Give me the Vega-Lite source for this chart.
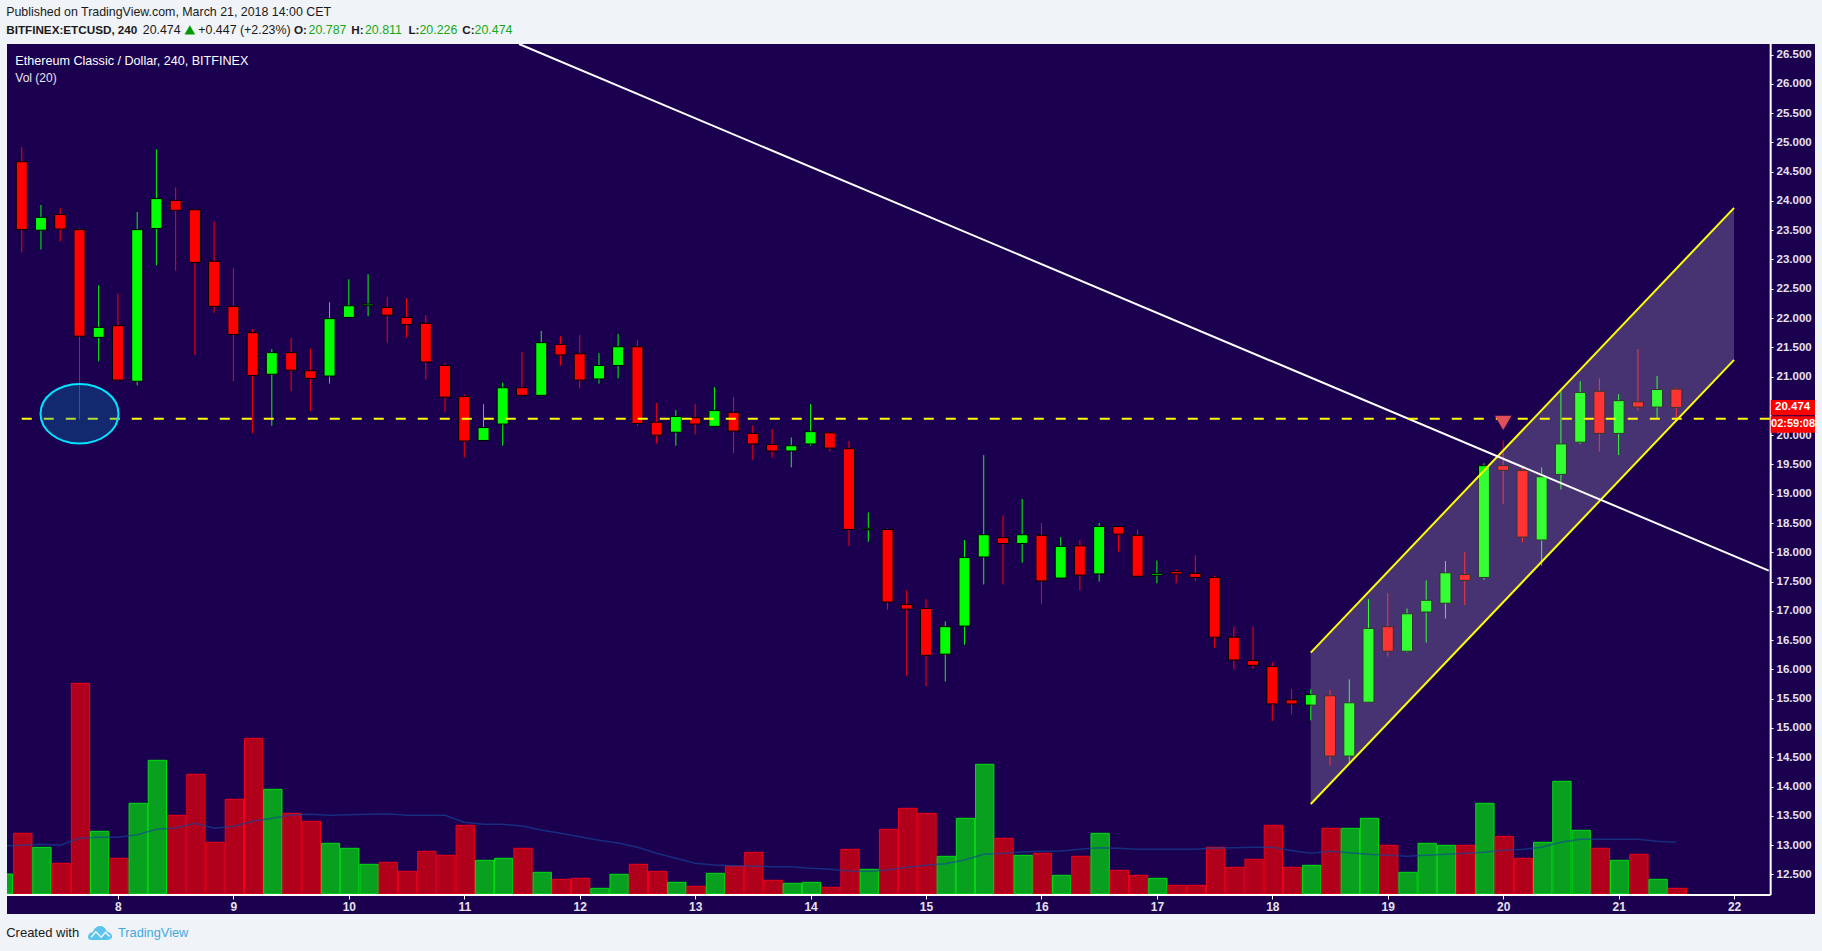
{
"$schema":"https://vega.github.io/schema/vega-lite/v6.json",
"width":1808,"height":870,"autosize":{"type":"none"},
"padding":{"left":7,"top":44,"right":7,"bottom":37},
"background":"#f0f3f7",
"config":{"view":{"fill":"#1a004f","stroke":null}},
"datasets":{
"candles":[
{"day":7.167,"open":24.67,"high":24.92,"low":23.12,"close":23.51,"dir":"down"},
{"day":7.333,"open":23.5,"high":23.93,"low":23.17,"close":23.72,"dir":"up"},
{"day":7.5,"open":23.77,"high":23.88,"low":23.31,"close":23.52,"dir":"down"},
{"day":7.667,"open":23.51,"high":23.53,"low":20.27,"close":21.69,"dir":"down"},
{"day":7.833,"open":21.67,"high":22.56,"low":21.26,"close":21.84,"dir":"up"},
{"day":8,"open":21.87,"high":22.42,"low":20.92,"close":20.94,"dir":"down"},
{"day":8.167,"open":20.92,"high":23.81,"low":20.85,"close":23.51,"dir":"up"},
{"day":8.333,"open":23.53,"high":24.88,"low":22.9,"close":24.04,"dir":"up"},
{"day":8.5,"open":24.01,"high":24.23,"low":22.81,"close":23.84,"dir":"down"},
{"day":8.667,"open":23.85,"high":23.85,"low":21.37,"close":22.95,"dir":"down"},
{"day":8.833,"open":22.97,"high":23.65,"low":22.09,"close":22.2,"dir":"down"},
{"day":9,"open":22.2,"high":22.85,"low":20.92,"close":21.72,"dir":"down"},
{"day":9.167,"open":21.75,"high":21.81,"low":20.03,"close":21.02,"dir":"down"},
{"day":9.333,"open":21.04,"high":21.47,"low":20.16,"close":21.41,"dir":"up"},
{"day":9.5,"open":21.41,"high":21.66,"low":20.75,"close":21.11,"dir":"down"},
{"day":9.667,"open":21.1,"high":21.48,"low":20.41,"close":20.97,"dir":"down"},
{"day":9.833,"open":21.01,"high":22.27,"low":20.88,"close":21.99,"dir":"up"},
{"day":10,"open":22.01,"high":22.66,"low":22.01,"close":22.21,"dir":"up"},
{"day":10.167,"open":22.22,"high":22.75,"low":22.03,"close":22.24,"dir":"up"},
{"day":10.333,"open":22.18,"high":22.36,"low":21.58,"close":22.05,"dir":"down"},
{"day":10.5,"open":22.01,"high":22.34,"low":21.67,"close":21.89,"dir":"down"},
{"day":10.667,"open":21.91,"high":22.05,"low":20.95,"close":21.25,"dir":"down"},
{"day":10.833,"open":21.19,"high":21.23,"low":20.4,"close":20.65,"dir":"down"},
{"day":11,"open":20.66,"high":20.7,"low":19.62,"close":19.9,"dir":"down"},
{"day":11.167,"open":19.91,"high":20.53,"low":19.91,"close":20.13,"dir":"up"},
{"day":11.333,"open":20.19,"high":20.9,"low":19.82,"close":20.81,"dir":"up"},
{"day":11.5,"open":20.81,"high":21.42,"low":20.68,"close":20.68,"dir":"down"},
{"day":11.667,"open":20.68,"high":21.78,"low":20.68,"close":21.58,"dir":"up"},
{"day":11.833,"open":21.55,"high":21.69,"low":21.19,"close":21.37,"dir":"down"},
{"day":12,"open":21.39,"high":21.71,"low":20.8,"close":20.94,"dir":"down"},
{"day":12.167,"open":20.96,"high":21.4,"low":20.88,"close":21.19,"dir":"up"},
{"day":12.333,"open":21.19,"high":21.73,"low":20.97,"close":21.51,"dir":"up"},
{"day":12.5,"open":21.51,"high":21.62,"low":20.16,"close":20.2,"dir":"down"},
{"day":12.667,"open":20.22,"high":20.55,"low":19.86,"close":20,"dir":"down"},
{"day":12.833,"open":20.05,"high":20.43,"low":19.82,"close":20.32,"dir":"up"},
{"day":13,"open":20.3,"high":20.53,"low":20.01,"close":20.19,"dir":"down"},
{"day":13.167,"open":20.15,"high":20.82,"low":20.15,"close":20.42,"dir":"up"},
{"day":13.333,"open":20.39,"high":20.65,"low":19.69,"close":20.07,"dir":"down"},
{"day":13.5,"open":20.03,"high":20.17,"low":19.58,"close":19.85,"dir":"down"},
{"day":13.667,"open":19.84,"high":20.1,"low":19.62,"close":19.73,"dir":"down"},
{"day":13.833,"open":19.73,"high":19.96,"low":19.45,"close":19.82,"dir":"up"},
{"day":14,"open":19.85,"high":20.53,"low":19.82,"close":20.06,"dir":"up"},
{"day":14.167,"open":20.04,"high":20.04,"low":19.72,"close":19.78,"dir":"down"},
{"day":14.333,"open":19.77,"high":19.9,"low":18.11,"close":18.39,"dir":"down"},
{"day":14.5,"open":18.39,"high":18.68,"low":18.18,"close":18.41,"dir":"up"},
{"day":14.667,"open":18.39,"high":18.41,"low":17.02,"close":17.15,"dir":"down"},
{"day":14.833,"open":17.11,"high":17.35,"low":15.89,"close":17.03,"dir":"down"},
{"day":15,"open":17.04,"high":17.2,"low":15.71,"close":16.24,"dir":"down"},
{"day":15.167,"open":16.26,"high":16.82,"low":15.79,"close":16.73,"dir":"up"},
{"day":15.333,"open":16.74,"high":18.21,"low":16.42,"close":17.91,"dir":"up"},
{"day":15.5,"open":17.92,"high":19.66,"low":17.45,"close":18.3,"dir":"up"},
{"day":15.667,"open":18.25,"high":18.63,"low":17.45,"close":18.15,"dir":"down"},
{"day":15.833,"open":18.15,"high":18.91,"low":17.82,"close":18.3,"dir":"up"},
{"day":16,"open":18.29,"high":18.5,"low":17.12,"close":17.51,"dir":"down"},
{"day":16.167,"open":17.56,"high":18.26,"low":17.56,"close":18.1,"dir":"up"},
{"day":16.333,"open":18.11,"high":18.21,"low":17.35,"close":17.61,"dir":"down"},
{"day":16.5,"open":17.63,"high":18.5,"low":17.5,"close":18.44,"dir":"up"},
{"day":16.667,"open":18.44,"high":18.44,"low":18.01,"close":18.31,"dir":"down"},
{"day":16.833,"open":18.29,"high":18.39,"low":17.59,"close":17.59,"dir":"down"},
{"day":17,"open":17.61,"high":17.86,"low":17.47,"close":17.64,"dir":"up"},
{"day":17.167,"open":17.67,"high":17.71,"low":17.47,"close":17.63,"dir":"down"},
{"day":17.333,"open":17.64,"high":17.95,"low":17.51,"close":17.57,"dir":"down"},
{"day":17.5,"open":17.57,"high":17.6,"low":16.37,"close":16.55,"dir":"down"},
{"day":17.667,"open":16.55,"high":16.73,"low":16,"close":16.16,"dir":"down"},
{"day":17.833,"open":16.15,"high":16.73,"low":16.01,"close":16.07,"dir":"down"},
{"day":18,"open":16.05,"high":16.12,"low":15.12,"close":15.41,"dir":"down"},
{"day":18.167,"open":15.48,"high":15.66,"low":15.23,"close":15.41,"dir":"down"},
{"day":18.333,"open":15.39,"high":15.66,"low":15.13,"close":15.57,"dir":"up"},
{"day":18.5,"open":15.55,"high":15.65,"low":14.36,"close":14.52,"dir":"down"},
{"day":18.667,"open":14.52,"high":15.83,"low":14.4,"close":15.43,"dir":"up"},
{"day":18.833,"open":15.44,"high":17.2,"low":15.44,"close":16.7,"dir":"up"},
{"day":19,"open":16.73,"high":17.3,"low":16.22,"close":16.31,"dir":"down"},
{"day":19.167,"open":16.31,"high":17.04,"low":16.29,"close":16.95,"dir":"up"},
{"day":19.333,"open":16.98,"high":17.52,"low":16.46,"close":17.18,"dir":"up"},
{"day":19.5,"open":17.13,"high":17.85,"low":16.87,"close":17.65,"dir":"up"},
{"day":19.667,"open":17.62,"high":18,"low":17.1,"close":17.52,"dir":"down"},
{"day":19.833,"open":17.57,"high":19.52,"low":17.53,"close":19.48,"dir":"up"},
{"day":20,"open":19.48,"high":19.91,"low":18.82,"close":19.4,"dir":"down"},
{"day":20.167,"open":19.4,"high":19.44,"low":18.17,"close":18.26,"dir":"down"},
{"day":20.333,"open":18.21,"high":19.45,"low":17.77,"close":19.29,"dir":"up"},
{"day":20.5,"open":19.33,"high":20.76,"low":19.07,"close":19.85,"dir":"up"},
{"day":20.667,"open":19.88,"high":20.92,"low":19.85,"close":20.73,"dir":"up"},
{"day":20.833,"open":20.75,"high":20.97,"low":19.72,"close":20.03,"dir":"down"},
{"day":21,"open":20.03,"high":20.7,"low":19.66,"close":20.59,"dir":"up"},
{"day":21.167,"open":20.57,"high":21.47,"low":20.42,"close":20.48,"dir":"down"},
{"day":21.333,"open":20.48,"high":21.01,"low":20.29,"close":20.78,"dir":"up"},
{"day":21.5,"open":20.787,"high":20.811,"low":20.226,"close":20.474,"dir":"down"}
],
"volume":[
{"day":7,"vol":20,"ma":48,"dir":"up"},
{"day":7.167,"vol":60.7,"ma":48.7,"dir":"down"},
{"day":7.333,"vol":46.7,"ma":49.7,"dir":"up"},
{"day":7.5,"vol":30.7,"ma":48.7,"dir":"down"},
{"day":7.667,"vol":210.7,"ma":55.7,"dir":"down"},
{"day":7.833,"vol":62.7,"ma":56.7,"dir":"up"},
{"day":8,"vol":35.7,"ma":56.7,"dir":"down"},
{"day":8.167,"vol":90.7,"ma":59.3,"dir":"up"},
{"day":8.333,"vol":133.7,"ma":64.7,"dir":"up"},
{"day":8.5,"vol":78.7,"ma":66,"dir":"down"},
{"day":8.667,"vol":119.7,"ma":70.7,"dir":"down"},
{"day":8.833,"vol":51.7,"ma":65.7,"dir":"down"},
{"day":9,"vol":94.7,"ma":67.7,"dir":"down"},
{"day":9.167,"vol":155.7,"ma":72.7,"dir":"down"},
{"day":9.333,"vol":104.7,"ma":75.7,"dir":"up"},
{"day":9.5,"vol":80.7,"ma":79,"dir":"down"},
{"day":9.667,"vol":72.7,"ma":79.7,"dir":"down"},
{"day":9.833,"vol":50.7,"ma":78.7,"dir":"up"},
{"day":10,"vol":45.7,"ma":79.3,"dir":"up"},
{"day":10.167,"vol":29.7,"ma":79.7,"dir":"up"},
{"day":10.333,"vol":31.7,"ma":80.3,"dir":"down"},
{"day":10.5,"vol":22.7,"ma":78.7,"dir":"down"},
{"day":10.667,"vol":42.7,"ma":78.7,"dir":"down"},
{"day":10.833,"vol":38.7,"ma":78.7,"dir":"down"},
{"day":11,"vol":68.7,"ma":71.7,"dir":"down"},
{"day":11.167,"vol":33.7,"ma":69.7,"dir":"up"},
{"day":11.333,"vol":35.7,"ma":69.7,"dir":"up"},
{"day":11.5,"vol":45.7,"ma":68,"dir":"down"},
{"day":11.667,"vol":21.7,"ma":64,"dir":"up"},
{"day":11.833,"vol":14.7,"ma":60.7,"dir":"down"},
{"day":12,"vol":15.7,"ma":57.3,"dir":"down"},
{"day":12.167,"vol":5.7,"ma":53.7,"dir":"up"},
{"day":12.333,"vol":19.7,"ma":51,"dir":"up"},
{"day":12.5,"vol":29.7,"ma":46.7,"dir":"down"},
{"day":12.667,"vol":22.7,"ma":40.7,"dir":"down"},
{"day":12.833,"vol":11.7,"ma":35.7,"dir":"up"},
{"day":13,"vol":7.7,"ma":30.7,"dir":"down"},
{"day":13.167,"vol":20.7,"ma":29,"dir":"up"},
{"day":13.333,"vol":27.7,"ma":28.3,"dir":"down"},
{"day":13.5,"vol":41.7,"ma":28,"dir":"down"},
{"day":13.667,"vol":13.7,"ma":27.3,"dir":"down"},
{"day":13.833,"vol":10.7,"ma":27.3,"dir":"up"},
{"day":14,"vol":11.7,"ma":25.7,"dir":"up"},
{"day":14.167,"vol":6.7,"ma":24.7,"dir":"down"},
{"day":14.333,"vol":44.7,"ma":23,"dir":"down"},
{"day":14.5,"vol":24.7,"ma":22.7,"dir":"up"},
{"day":14.667,"vol":64.7,"ma":24,"dir":"down"},
{"day":14.833,"vol":85.7,"ma":26.7,"dir":"down"},
{"day":15,"vol":80.7,"ma":28.7,"dir":"down"},
{"day":15.167,"vol":37.7,"ma":30.3,"dir":"up"},
{"day":15.333,"vol":75.7,"ma":34,"dir":"up"},
{"day":15.5,"vol":129.7,"ma":39.7,"dir":"up"},
{"day":15.667,"vol":55.7,"ma":40.7,"dir":"down"},
{"day":15.833,"vol":38.7,"ma":42,"dir":"up"},
{"day":16,"vol":40.7,"ma":42.7,"dir":"down"},
{"day":16.167,"vol":18.7,"ma":43,"dir":"up"},
{"day":16.333,"vol":37.7,"ma":44.7,"dir":"down"},
{"day":16.5,"vol":60.7,"ma":46.3,"dir":"up"},
{"day":16.667,"vol":23.7,"ma":45.7,"dir":"down"},
{"day":16.833,"vol":18.7,"ma":44.7,"dir":"down"},
{"day":17,"vol":15.7,"ma":44.7,"dir":"up"},
{"day":17.167,"vol":8.7,"ma":44.7,"dir":"down"},
{"day":17.333,"vol":8.7,"ma":44.7,"dir":"down"},
{"day":17.5,"vol":46.7,"ma":46,"dir":"down"},
{"day":17.667,"vol":26.7,"ma":46.3,"dir":"down"},
{"day":17.833,"vol":34.7,"ma":46.7,"dir":"down"},
{"day":18,"vol":68.7,"ma":46.7,"dir":"down"},
{"day":18.167,"vol":26.7,"ma":43.5,"dir":"down"},
{"day":18.333,"vol":28.7,"ma":40.7,"dir":"up"},
{"day":18.5,"vol":65.7,"ma":42.7,"dir":"down"},
{"day":18.667,"vol":65.7,"ma":41.3,"dir":"up"},
{"day":18.833,"vol":75.7,"ma":39.7,"dir":"up"},
{"day":19,"vol":48.7,"ma":38.7,"dir":"down"},
{"day":19.167,"vol":21.7,"ma":37.7,"dir":"up"},
{"day":19.333,"vol":50.7,"ma":38.7,"dir":"up"},
{"day":19.5,"vol":48.7,"ma":39.7,"dir":"up"},
{"day":19.667,"vol":48.7,"ma":40.7,"dir":"down"},
{"day":19.833,"vol":90.7,"ma":41.7,"dir":"up"},
{"day":20,"vol":57.7,"ma":43.7,"dir":"down"},
{"day":20.167,"vol":35.7,"ma":44.7,"dir":"down"},
{"day":20.333,"vol":51.7,"ma":46.7,"dir":"up"},
{"day":20.5,"vol":112.7,"ma":51.7,"dir":"up"},
{"day":20.667,"vol":63.7,"ma":54.7,"dir":"up"},
{"day":20.833,"vol":45.7,"ma":54.7,"dir":"down"},
{"day":21,"vol":33.7,"ma":54.7,"dir":"up"},
{"day":21.167,"vol":39.7,"ma":54.7,"dir":"down"},
{"day":21.333,"vol":14.7,"ma":52.7,"dir":"up"},
{"day":21.5,"vol":5.7,"ma":51.7,"dir":"down"}
],
"band":[{"day":18.333,"p":16.286,"p2":13.702},{"day":22,"p":23.881,"p2":21.285}],
"channel":[
{"day":18.333,"p":16.286,"line":"upper"},{"day":22,"p":23.881,"line":"upper"},
{"day":18.333,"p":13.702,"line":"lower"},{"day":22,"p":21.285,"line":"lower"}],
"trend":[{"day":11.475,"p":26.68},{"day":22.3,"p":17.687}],
"support":[{"day":7.167,"p":20.28},{"day":22.311,"p":20.28}],
"frameV":[{"day":22.317,"p":26.68,"p2":12.148}],
"frameH":[{"day":7.039,"day2":22.317,"p":12.148}],
"circle":[{"day":7.667,"p":20.366}],
"marker":[{"day":20,"p":20.209}],
"tagBoxes":[{"day":22.317,"day2":22.701,"p":20.602,"p2":20.34},{"day":22.317,"day2":22.701,"p":20.322,"p2":20.04}],
"tagTop":[{"day":22.355,"p":20.474,"label":"20.474"}],
"tagTimer":[{"day":22.32,"p":20.19,"label":"02:59:08"}],
"headPlain":[
{"day":7.032,"p":27.229,"label":"Published on TradingView.com, March 21, 2018 14:00 CET"},
{"day":8.215,"p":26.92,"label":"20.474"},
{"day":8.696,"p":26.92,"label":"+0.447 (+2.23%)"}],
"headBold":[
{"day":7.032,"p":26.92,"label":"BITFINEX:ETCUSD, 240"},
{"day":9.525,"p":26.92,"label":"O:"},
{"day":10.022,"p":26.92,"label":"H:"},
{"day":10.516,"p":26.92,"label":"L:"},
{"day":10.983,"p":26.92,"label":"C:"}],
"headGreen":[
{"day":9.651,"p":26.92,"label":"20.787"},
{"day":10.14,"p":26.92,"label":"20.811"},
{"day":10.612,"p":26.92,"label":"20.226"},
{"day":11.089,"p":26.92,"label":"20.474"}],
"headTriangle":[{"day":8.623,"p":26.92}],
"panelTitle":[{"day":7.111,"p":26.397,"label":"Ethereum Classic / Dollar, 240, BITFINEX"}],
"panelSub":[{"day":7.111,"p":26.107,"label":"Vol (20)"}],
"footPlain":[{"day":7.032,"p":11.499,"label":"Created with"}],
"footLink":[{"day":8,"p":11.499,"label":"TradingView"}],
"logo":[{"day":7.845,"p":11.499}]
},
"resolve":{"scale":{"y":"independent","color":"independent","stroke":"independent"},"axis":{"x":"independent","y":"independent"}},
"layer":[
{
"data":{"name":"volume"},
"encoding":{"x":{"field":"day","type":"quantitative","scale":{"domain":[7.039,22.701],"nice":false,"zero":false,"padding":0},"axis":null}},
"layer":[
{"mark":{"type":"bar","orient":"vertical","size":18.3,"strokeWidth":1,"clip":true,"xOffset":1},
 "encoding":{
  "y":{"field":"vol","type":"quantitative","stack":null,"scale":{"domain":[-20,850],"nice":false,"zero":false},"axis":null},
  "color":{"field":"dir","type":"nominal","scale":{"domain":["up","down"],"range":["#08a01e","#b0001c"]},"legend":null},
  "stroke":{"field":"dir","type":"nominal","scale":{"domain":["up","down"],"range":["#00e010","#f00018"]},"legend":null}}},
{"mark":{"type":"line","color":"#15459a","opacity":0.65,"strokeWidth":1.5,"clip":true},
 "encoding":{"y":{"field":"ma","type":"quantitative","scale":{"domain":[-20,850],"nice":false,"zero":false},"axis":null}}}
]},
{
"encoding":{
 "x":{"field":"day","type":"quantitative","scale":{"domain":[7.039,22.701],"nice":false,"zero":false,"padding":0},
  "axis":{"orient":"bottom","offset":-19,"values":[8,9,10,11,12,13,14,15,16,17,18,19,20,21,22],"format":"d","title":null,"grid":false,"domain":false,"tickColor":"#ffffff","tickSize":4,"tickWidth":1,"labelColor":"#e6e2ee","labelFont":"Liberation Sans","labelFontSize":12,"labelFontWeight":"bold","labelPadding":2,"labelOverlap":false,"labelFlush":false}},
 "y":{"field":"p","type":"quantitative","scale":{"domain":[11.823,26.68],"nice":false,"zero":false},
  "axis":{"orient":"right","offset":-45,"values":[12.5,13,13.5,14,14.5,15,15.5,16,16.5,17,17.5,18,18.5,19,19.5,20,20.5,21,21.5,22,22.5,23,23.5,24,24.5,25,25.5,26,26.5],"format":".3f","title":null,"grid":false,"domain":false,"tickColor":"#ffffff","tickSize":3,"tickWidth":1,"labelColor":"#e6e2ee","labelFont":"Liberation Sans","labelFontSize":11.5,"labelFontWeight":"bold","labelPadding":3,"labelOverlap":false,"labelFlush":false}}
},
"layer":[
{"data":{"name":"candles"},"mark":{"type":"rule","strokeWidth":1},
 "encoding":{"y":{"field":"low","type":"quantitative"},"y2":{"field":"high"},
  "color":{"field":"dir","type":"nominal","scale":{"domain":["up","down"],"range":["#00ff00","#ff0000"]},"legend":null}}},
{"data":{"name":"candles"},"mark":{"type":"bar","size":11,"stroke":"#000000","strokeWidth":1},
 "encoding":{"y":{"field":"open","type":"quantitative"},"y2":{"field":"close"},
  "color":{"field":"dir","type":"nominal","scale":{"domain":["up","down"],"range":["#00ff00","#ff0000"]},"legend":null}}},
{"data":{"name":"band"},"mark":{"type":"area","color":"#ffffff","opacity":0.2},"encoding":{"y2":{"field":"p2"}}},
{"data":{"name":"channel"},"mark":{"type":"line","color":"#ffff00","strokeWidth":2},"encoding":{"detail":{"field":"line"}}},
{"data":{"name":"trend"},"mark":{"type":"line","color":"#ffffff","strokeWidth":2,"clip":true}},
{"data":{"name":"support"},"mark":{"type":"line","color":"#ffff00","strokeWidth":2,"strokeDash":[10,12]}},
{"data":{"name":"frameV"},"mark":{"type":"rule","color":"#ffffff","strokeWidth":2},"encoding":{"y2":{"field":"p2"}}},
{"data":{"name":"frameH"},"mark":{"type":"rule","color":"#ffffff","strokeWidth":2},"encoding":{"x2":{"field":"day2"}}},
{"data":{"name":"circle"},"mark":{"type":"point","shape":"M-1 0A1 0.764 0 1 1 1 0A1 0.764 0 1 1 -1 0Z","size":6084,"filled":true,"fill":"#0088bb","fillOpacity":0.3,"stroke":"#00e5ff","strokeWidth":2,"opacity":1}},
{"data":{"name":"marker"},"mark":{"type":"point","shape":"triangle-down","size":276,"filled":true,"fill":"#e0505a","opacity":1}},
{"data":{"name":"tagBoxes"},"mark":{"type":"rect","color":"#ff0000"},"encoding":{"x2":{"field":"day2"},"y2":{"field":"p2"}}},
{"data":{"name":"tagTop"},"mark":{"type":"text","align":"left","baseline":"middle","font":"Liberation Sans","fontSize":11.5,"fontWeight":"bold","color":"#ffffff"},"encoding":{"text":{"field":"label"}}},
{"data":{"name":"tagTimer"},"mark":{"type":"text","align":"left","baseline":"middle","font":"Liberation Sans","fontSize":11,"fontWeight":"bold","color":"#ffffff"},"encoding":{"text":{"field":"label"}}},
{"data":{"name":"headPlain"},"mark":{"type":"text","align":"left","baseline":"middle","font":"Liberation Sans","fontSize":12.4,"color":"#1a1a1a"},"encoding":{"text":{"field":"label"}}},
{"data":{"name":"headBold"},"mark":{"type":"text","align":"left","baseline":"middle","font":"Liberation Sans","fontSize":11.7,"fontWeight":"bold","color":"#1a1a1a"},"encoding":{"text":{"field":"label"}}},
{"data":{"name":"headGreen"},"mark":{"type":"text","align":"left","baseline":"middle","font":"Liberation Sans","fontSize":12.4,"color":"#16a816"},"encoding":{"text":{"field":"label"}}},
{"data":{"name":"headTriangle"},"mark":{"type":"point","shape":"triangle-up","size":114,"filled":true,"fill":"#009900","opacity":1}},
{"data":{"name":"panelTitle"},"mark":{"type":"text","align":"left","baseline":"middle","font":"Liberation Sans","fontSize":12.6,"fontWeight":"normal","color":"#ffffff"},"encoding":{"text":{"field":"label"}}},
{"data":{"name":"panelSub"},"mark":{"type":"text","align":"left","baseline":"middle","font":"Liberation Sans","fontSize":12,"color":"#e8e4f0"},"encoding":{"text":{"field":"label"}}},
{"data":{"name":"footPlain"},"mark":{"type":"text","align":"left","baseline":"middle","font":"Liberation Sans","fontSize":13,"color":"#1a1a1a"},"encoding":{"text":{"field":"label"}}},
{"data":{"name":"footLink"},"mark":{"type":"text","align":"left","baseline":"middle","font":"Liberation Sans","fontSize":12.8,"color":"#3fa9e0"},"encoding":{"text":{"field":"label"}}},
{"data":{"name":"logo"},"mark":{"type":"point","shape":"M-1 0.35C-1 0.1 -0.8 -0.05 -0.6 -0.05C-0.55 -0.3 -0.3 -0.58 0 -0.58C0.3 -0.58 0.5 -0.35 0.55 -0.1C0.8 -0.1 1 0.1 1 0.3C1 0.5 0.8 0.58 0.6 0.58L-0.7 0.58C-0.9 0.58 -1 0.5 -1 0.35Z","size":576,"filled":true,"fill":"#5bc4ed","opacity":1}},
{"data":{"name":"logo"},"mark":{"type":"point","shape":"M-0.75 0.35L-0.35 -0.1L0.1 0.35L0.45 -0.05L0.8 0.3","size":576,"filled":false,"stroke":"#f0f3f7","strokeWidth":1.5,"opacity":1}}
]}
]
}
